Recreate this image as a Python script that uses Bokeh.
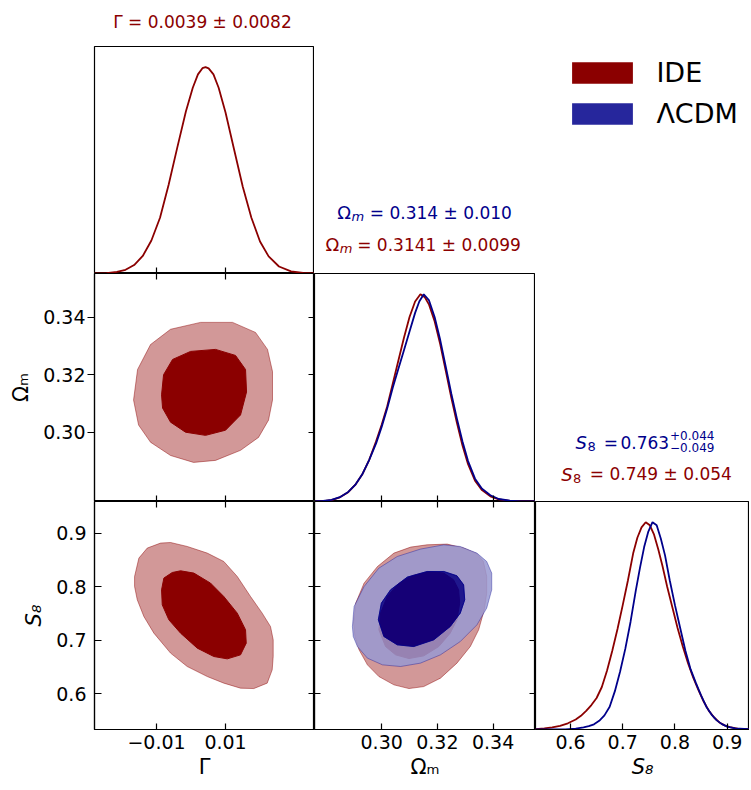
from bokeh.plotting import figure
from bokeh.layouts import gridplot
from bokeh.models import (Range1d, LinearAxis, FixedTicker, Label, Legend, LegendItem,
                          CustomJSTickFormatter)
from bokeh.embed import file_html
from bokeh.resources import INLINE

FONT = "DejaVu Sans"
RED = "#8b0000"
BLUE = "#00008b"
RED_LIGHT = "#d29898"
BLUE_LIGHT = "#9999d1"

# ---------------- data ----------------
series_names = ["IDE", "ΛCDM"]

gamma_ticks = [-0.01, 0.01]
gamma_tick_labels = ["−0.01", "0.01"]
om_ticks = [0.30, 0.32, 0.34]
om_tick_labels = ["0.30", "0.32", "0.34"]
s8_ticks = [0.6, 0.7, 0.8, 0.9]
s8_tick_labels = ["0.6", "0.7", "0.8", "0.9"]

# 1D marginal: Gamma (IDE)
gamma_x = [-0.0280, -0.0245, -0.0215, -0.0190, -0.0165, -0.0140, -0.0115, -0.0090, -0.0065,
           -0.0040, -0.0015, 0.0005, 0.0020, 0.0033, 0.0042, 0.0051, 0.0065, 0.0080, 0.0100,
           0.0125, 0.0150, 0.0175, 0.0200, 0.0225, 0.0255, 0.0290, 0.0325, 0.0358]
gamma_p_ide = [0.0005, 0.0022, 0.0074, 0.018, 0.041, 0.085, 0.16, 0.27, 0.43, 0.61, 0.785,
               0.90, 0.965, 0.995, 1.0, 0.994, 0.965, 0.90, 0.78, 0.60, 0.42, 0.27, 0.155,
               0.083, 0.034, 0.010, 0.0026, 0.0006]

# 1D marginal: Omega_m
om_x_ide = [0.2761, 0.2790, 0.2820, 0.2850, 0.2880, 0.2905, 0.2930, 0.2955, 0.2980, 0.3000,
            0.3020, 0.3040, 0.3060, 0.3080, 0.3100, 0.3120, 0.3139, 0.3155, 0.3170, 0.3190,
            0.3210, 0.3230, 0.3250, 0.3270, 0.3290, 0.3310, 0.3335, 0.3360, 0.3390, 0.3420,
            0.3460, 0.3500, 0.3552]
om_p_ide = [0.0005, 0.002, 0.007, 0.020, 0.045, 0.080, 0.13, 0.20, 0.29, 0.37, 0.46, 0.57,
            0.68, 0.79, 0.89, 0.965, 1.0, 0.985, 0.95, 0.87, 0.76, 0.63, 0.50, 0.38, 0.27,
            0.18, 0.10, 0.055, 0.025, 0.010, 0.003, 0.001, 0.0]
om_x_lcdm = [0.2761, 0.2790, 0.2820, 0.2850, 0.2880, 0.2905, 0.2930, 0.2955, 0.2980, 0.3000,
             0.3020, 0.3040, 0.3060, 0.3080, 0.3100, 0.3120, 0.3135, 0.3151, 0.3170, 0.3190,
             0.3210, 0.3230, 0.3250, 0.3270, 0.3290, 0.3310, 0.3335, 0.3360, 0.3390, 0.3420,
             0.3460, 0.3500, 0.3552]
om_p_lcdm = [0.001, 0.003, 0.008, 0.021, 0.046, 0.080, 0.13, 0.20, 0.28, 0.36, 0.45, 0.55,
             0.64, 0.73, 0.82, 0.91, 0.965, 1.0, 0.97, 0.89, 0.78, 0.65, 0.52, 0.40, 0.29,
             0.195, 0.11, 0.062, 0.03, 0.012, 0.004, 0.001, 0.0]

# 1D marginal: S8
s8_x_ide = [0.533, 0.550, 0.565, 0.580, 0.595, 0.610, 0.620, 0.630, 0.640, 0.650, 0.660,
            0.670, 0.680, 0.690, 0.700, 0.710, 0.720, 0.728, 0.736, 0.744, 0.752, 0.760,
            0.768, 0.776, 0.785, 0.795, 0.805, 0.815, 0.825, 0.835, 0.845, 0.855, 0.865,
            0.875, 0.885, 0.895, 0.905, 0.920, 0.943]
s8_p_ide = [0.002, 0.005, 0.010, 0.018, 0.030, 0.048, 0.066, 0.090, 0.118, 0.152, 0.205,
            0.285, 0.38, 0.485, 0.60, 0.72, 0.85, 0.925, 0.975, 1.0, 0.985, 0.94, 0.87, 0.79,
            0.69, 0.59, 0.49, 0.40, 0.32, 0.25, 0.19, 0.135, 0.09, 0.058, 0.034, 0.02, 0.011,
            0.004, 0.001]
s8_x_lcdm = [0.533, 0.590, 0.610, 0.625, 0.635, 0.645, 0.655, 0.665, 0.675, 0.685, 0.695,
             0.705, 0.715, 0.725, 0.733, 0.741, 0.749, 0.757, 0.765, 0.773, 0.781, 0.790,
             0.800, 0.810, 0.820, 0.830, 0.840, 0.850, 0.860, 0.870, 0.880, 0.890, 0.900,
             0.915, 0.943]
s8_p_lcdm = [0.0, 0.001, 0.004, 0.010, 0.016, 0.025, 0.042, 0.068, 0.11, 0.185, 0.28, 0.39,
             0.52, 0.67, 0.78, 0.88, 0.955, 1.0, 0.985, 0.92, 0.84, 0.72, 0.60, 0.49, 0.38,
             0.29, 0.225, 0.165, 0.11, 0.072, 0.044, 0.026, 0.014, 0.005, 0.001]

# 2D contours: Gamma vs Omega_m (IDE)
g_om_outer_g = [-0.01667, -0.01551, -0.01174, -0.00594, 0.00275, 0.01203, 0.0187, 0.02217,
                0.02362, 0.02362, 0.02246, 0.01957, 0.01435, 0.0071, 0.00072, -0.00594,
                -0.01174, -0.01522]
g_om_outer_om = [0.3112, 0.3218, 0.3305, 0.3358, 0.3382, 0.3382, 0.3347, 0.3288, 0.3211,
                 0.3112, 0.3042, 0.2982, 0.2937, 0.2902, 0.2895, 0.2919, 0.2965, 0.3025]
g_om_inner_g = [-0.00855, -0.00797, -0.00536, -0.00014, 0.0071, 0.0129, 0.0158, 0.01609,
                0.01435, 0.0100, 0.0042, -0.0016, -0.00594, -0.00826]
g_om_inner_om = [0.3130, 0.3200, 0.3253, 0.3281, 0.3288, 0.3267, 0.3218, 0.3140, 0.3060,
                 0.3007, 0.2989, 0.3000, 0.3035, 0.3084]

# 2D contours: Gamma vs S8 (IDE)
g_s8_outer_g = [-0.01638, -0.01513, -0.0127, -0.00884, -0.00594, -0.00111, 0.0047, 0.0095,
                0.0134, 0.01725, 0.02063, 0.02304, 0.02382, 0.02382, 0.02353, 0.02208,
                0.0182, 0.01435, 0.0095, 0.0047, -0.00111, -0.00594, -0.01078, -0.01368,
                -0.0156, -0.01638]
g_s8_outer_s8 = [0.8190, 0.8533, 0.8720, 0.8813, 0.8824, 0.8750, 0.8626, 0.8470, 0.8190,
                 0.7816, 0.7506, 0.7256, 0.7008, 0.6697, 0.6448, 0.6200, 0.6099, 0.6106,
                 0.6200, 0.6323, 0.6510, 0.6760, 0.7133, 0.7443, 0.7755, 0.8003]
g_s8_inner_g = [-0.00855, -0.00788, -0.00545, -0.00304, 0.00081, 0.00565, 0.0095, 0.0134,
                0.0158, 0.0160, 0.01435, 0.0105, 0.0066, 0.0018, -0.00304, -0.00643, -0.00835]
g_s8_inner_s8 = [0.7941, 0.8160, 0.8264, 0.8296, 0.8253, 0.8066, 0.7816, 0.7506, 0.7195,
                 0.6946, 0.6728, 0.6653, 0.6697, 0.6853, 0.7133, 0.7381, 0.7661]

# 2D contours: Omega_m vs S8 (IDE and LCDM)
om_s8_ide_outer_om = [0.2899, 0.2907, 0.2937, 0.2985, 0.3044, 0.3104, 0.3163, 0.3235, 0.3294,
                      0.3342, 0.3365, 0.3377, 0.3377, 0.3368, 0.3348, 0.3318, 0.3270, 0.3211,
                      0.3151, 0.3098, 0.3044, 0.2990, 0.2949, 0.2919, 0.2904]
om_s8_ide_outer_s8 = [0.7320, 0.7693, 0.8066, 0.8376, 0.8626, 0.8738, 0.8781, 0.8794, 0.8720,
                      0.8613, 0.8470, 0.8190, 0.7880, 0.7568, 0.7195, 0.6883, 0.6573, 0.6293,
                      0.6136, 0.6099, 0.6168, 0.6323, 0.6541, 0.6821, 0.7070]
om_s8_ide_inner_om = [0.2990, 0.2996, 0.3020, 0.3062, 0.3115, 0.3175, 0.3223, 0.3258, 0.3276,
                      0.3280, 0.3270, 0.3246, 0.3205, 0.3151, 0.3098, 0.3050, 0.3014]
om_s8_ide_inner_s8 = [0.7195, 0.7506, 0.7816, 0.8066, 0.8221, 0.8283, 0.8253, 0.8128, 0.7941,
                      0.7693, 0.7381, 0.7133, 0.6883, 0.6709, 0.6659, 0.6728, 0.6883]
om_s8_lcdm_outer_om = [0.2895, 0.2901, 0.2937, 0.2990, 0.3056, 0.3139, 0.3223, 0.3282, 0.3342,
                       0.3377, 0.3395, 0.3395, 0.3377, 0.3342, 0.3282, 0.3211, 0.3139, 0.3068,
                       0.3003, 0.2949, 0.2913, 0.2898]
om_s8_lcdm_outer_s8 = [0.7256, 0.7630, 0.8003, 0.8346, 0.8563, 0.8701, 0.8781, 0.8750, 0.8626,
                       0.8470, 0.8253, 0.7941, 0.7600, 0.7288, 0.6976, 0.6728, 0.6573, 0.6510,
                       0.6541, 0.6666, 0.6883, 0.7070]
om_s8_lcdm_inner_om = [0.2988, 0.2999, 0.3032, 0.3092, 0.3163, 0.3223, 0.3270, 0.3294, 0.3298,
                       0.3282, 0.3246, 0.3187, 0.3115, 0.3056, 0.3008]
om_s8_lcdm_inner_s8 = [0.7381, 0.7693, 0.7941, 0.8178, 0.8283, 0.8283, 0.8203, 0.8035, 0.7755,
                       0.7506, 0.7256, 0.7008, 0.6883, 0.6915, 0.7070]

# ---------------- layout ----------------
GAMMA_RANGE = (-0.0280, 0.0358)
OM_RANGE = (0.2759, 0.3552)
S8_Y_RANGE = (0.5335, 0.9589)
S8_X_RANGE = (0.533, 0.9427)
PDF_RANGE = (0.0, 1.1)

CW = [220, 221, 214]
RH = [227, 228, 228]
LEFT = 94
TOP = 46
BOTTOM = 60
LABEL_DY = 8   # screen-unit correction for the free text labels


def make_fig(xr, yr, col, row, outline=True):
    left = LEFT if col == 0 else 0
    top = TOP if row == 0 else 0
    bottom = BOTTOM if row == 2 else 0
    p = figure(x_range=Range1d(*xr), y_range=Range1d(*yr),
               width=CW[col] + left, height=RH[row] + top + bottom,
               output_backend="svg", toolbar_location=None,
               x_axis_location=None, y_axis_location=None,
               min_border_left=left, min_border_right=0,
               min_border_top=top, min_border_bottom=bottom)
    p.grid.visible = False
    p.outline_line_color = "black" if outline else None
    p.outline_line_width = 1.2
    p.border_fill_alpha = 0
    if outline:
        p.background_fill_color = "white"
    else:
        p.background_fill_alpha = 0
    return p


def add_axis(p, side, ticks, tin=6, tout=0, labels=None, title=None, title_style="normal",
             standoff=6, title_standoff=10, fixed=None):
    ax = LinearAxis(ticker=FixedTicker(ticks=ticks))
    ax.major_tick_in = tin
    ax.major_tick_out = tout
    ax.minor_tick_line_color = None
    ax.axis_line_color = "black"
    ax.axis_line_width = 1.2
    ax.major_tick_line_color = "black"
    ax.major_tick_line_width = 1.2
    if labels is None:
        # tick marks only: pinned to the frame edge so that it takes no border space
        ax.fixed_location = fixed
        ax.formatter = CustomJSTickFormatter(code="return ''")
        ax.major_label_standoff = 0
    else:
        ax.major_label_overrides = dict(zip(ticks, labels))
        ax.major_label_text_font = FONT
        ax.major_label_text_font_size = "19px"
        ax.major_label_text_color = "black"
        ax.major_label_standoff = standoff
    if title is not None:
        ax.axis_label = title
        ax.axis_label_text_font = FONT
        ax.axis_label_text_font_size = "21px"
        ax.axis_label_text_font_style = title_style
        ax.axis_label_text_color = "black"
        ax.axis_label_standoff = title_standoff
    p.add_layout(ax, side)
    return ax


def add_text(p, x, y, text, color, size, style="normal"):
    p.add_layout(Label(x=x, y=y + LABEL_DY, x_units="screen", y_units="screen", text=text,
                       text_color=color, text_font=FONT, text_font_size=f"{size}px",
                       text_font_style=style, text_baseline="alphabetic", text_align="left"))


# row 1
p11 = make_fig(GAMMA_RANGE, PDF_RANGE, 0, 0)
p11.line(gamma_x, gamma_p_ide, line_color=RED, line_width=1.8)
add_axis(p11, "below", gamma_ticks, fixed=PDF_RANGE[0])
p11.title.text = "Γ = 0.0039 ± 0.0082"
p11.title.text_color = RED
p11.title.text_font = FONT
p11.title.text_font_size = "17px"
p11.title.text_font_style = "normal"
p11.title.align = "left"
p11.title.vertical_align = "bottom"
p11.title.offset = 18.7
p11.title.standoff = 10
try:
    p11.title.padding = dict(left=0, right=0, top=0, bottom=10)
except Exception:
    pass

p12 = make_fig((0, 1), (0, 1), 1, 0, outline=False)
add_text(p12, 22.7, 53, "Ω", BLUE, 18)
add_text(p12, 37.0, 49, "m", BLUE, 13, "italic")
add_text(p12, 55.3, 53, "= 0.314 ± 0.010", BLUE, 17)
add_text(p12, 11.0, 20.7, "Ω", RED, 18)
add_text(p12, 25.3, 16.7, "m", RED, 13, "italic")
add_text(p12, 42.7, 20.7, "= 0.3141 ± 0.0099", RED, 17)

p13 = make_fig((0, 1), (0, 1), 2, 0, outline=False)
nan = float("nan")
r_ide = p13.quad(left=[nan], right=[nan], top=[nan], bottom=[nan], fill_color=RED,
                 line_color=None)
r_lcdm = p13.quad(left=[nan], right=[nan], top=[nan], bottom=[nan], fill_color=BLUE,
                  fill_alpha=0.85, line_color=None)
legend = Legend(items=[LegendItem(label=series_names[0], renderers=[r_ide]),
                       LegendItem(label=series_names[1], renderers=[r_lcdm])],
                location=(29.4, RH[0] - 11 - 72), glyph_width=76, glyph_height=27,
                label_standoff=16, spacing=10, padding=0, margin=0, border_line_color=None,
                background_fill_alpha=0, label_text_font=FONT, label_text_font_size="27px",
                label_text_color="black")
p13.add_layout(legend)

# row 2
p21 = make_fig(GAMMA_RANGE, OM_RANGE, 0, 1)
p21.patch(g_om_outer_g, g_om_outer_om, fill_color=RED_LIGHT, line_color=RED, line_alpha=0.45,
          line_width=1)
p21.patch(g_om_inner_g, g_om_inner_om, fill_color=RED, line_color=RED, line_width=1)
add_axis(p21, "left", om_ticks, tin=0, tout=7, labels=om_tick_labels, title="Ωₘ",
         standoff=2, title_standoff=7)
add_axis(p21, "right", om_ticks, fixed=GAMMA_RANGE[1])
add_axis(p21, "above", gamma_ticks, fixed=OM_RANGE[1])
add_axis(p21, "below", gamma_ticks, fixed=OM_RANGE[0])

p22 = make_fig(OM_RANGE, PDF_RANGE, 1, 1)
p22.line(om_x_ide, om_p_ide, line_color=RED, line_width=1.8)
p22.line(om_x_lcdm, om_p_lcdm, line_color=BLUE, line_width=1.8)
add_axis(p22, "below", om_ticks, fixed=PDF_RANGE[0])

p23 = make_fig((0, 1), (0, 1), 2, 1, outline=False)
add_text(p23, 40.0, 51, "S", BLUE, 18, "italic")
add_text(p23, 52.0, 47, "8", BLUE, 13)
add_text(p23, 68.3, 51, "=", BLUE, 17)
add_text(p23, 85.0, 51, "0.763", BLUE, 17)
add_text(p23, 134.5, 57.7, "+0.044", BLUE, 12)
add_text(p23, 134.5, 46.0, "−0.049", BLUE, 12)
add_text(p23, 25.7, 19.3, "S", RED, 18, "italic")
add_text(p23, 37.6, 15.3, "8", RED, 13)
add_text(p23, 54.3, 19.3, "= 0.749 ± 0.054", RED, 17)

# row 3
p31 = make_fig(GAMMA_RANGE, S8_Y_RANGE, 0, 2)
p31.patch(g_s8_outer_g, g_s8_outer_s8, fill_color=RED_LIGHT, line_color=RED, line_alpha=0.45,
          line_width=1)
p31.patch(g_s8_inner_g, g_s8_inner_s8, fill_color=RED, line_color=RED, line_width=1)
add_axis(p31, "left", s8_ticks, tin=7, tout=0, labels=s8_tick_labels, title="S₈",
         title_style="italic", standoff=8, title_standoff=7)
add_axis(p31, "right", s8_ticks, fixed=GAMMA_RANGE[1])
add_axis(p31, "above", gamma_ticks, fixed=S8_Y_RANGE[1])
add_axis(p31, "below", gamma_ticks, labels=gamma_tick_labels, title="Γ", standoff=5,
         title_standoff=3)

p32 = make_fig(OM_RANGE, S8_Y_RANGE, 1, 2)
p32.patch(om_s8_ide_outer_om, om_s8_ide_outer_s8, fill_color=RED_LIGHT, line_color=RED,
          line_alpha=0.45, line_width=1)
p32.patch(om_s8_ide_inner_om, om_s8_ide_inner_s8, fill_color=RED, line_color=RED, line_width=1)
# LCDM: the 95% band is an annulus (hole = 68% region), drawn semi-transparent on top
p32.multi_polygons(xs=[[[om_s8_lcdm_outer_om, om_s8_lcdm_inner_om]]],
                   ys=[[[om_s8_lcdm_outer_s8, om_s8_lcdm_inner_s8]]],
                   fill_color=BLUE_LIGHT, fill_alpha=0.85, line_color=BLUE, line_alpha=0.35,
                   line_width=1)
p32.patch(om_s8_lcdm_inner_om, om_s8_lcdm_inner_s8, fill_color=BLUE, fill_alpha=0.85,
          line_color=BLUE, line_alpha=0.85, line_width=1)
add_axis(p32, "left", s8_ticks, fixed=OM_RANGE[0])
add_axis(p32, "right", s8_ticks, fixed=OM_RANGE[1])
add_axis(p32, "above", om_ticks, fixed=S8_Y_RANGE[1])
add_axis(p32, "below", om_ticks, labels=om_tick_labels, title="Ωₘ", standoff=5,
         title_standoff=3)

p33 = make_fig(S8_X_RANGE, PDF_RANGE, 2, 2)
p33.line(s8_x_ide, s8_p_ide, line_color=RED, line_width=1.8)
p33.line(s8_x_lcdm, s8_p_lcdm, line_color=BLUE, line_width=1.8)
add_axis(p33, "below", s8_ticks, labels=s8_tick_labels, title="S₈", title_style="italic",
         standoff=5, title_standoff=3)

grid = gridplot([[p11, p12, p13], [p21, p22, p23], [p31, p32, p33]], toolbar_location=None)

open("out.html", "w").write(file_html(grid, INLINE, "triangle plot"))
